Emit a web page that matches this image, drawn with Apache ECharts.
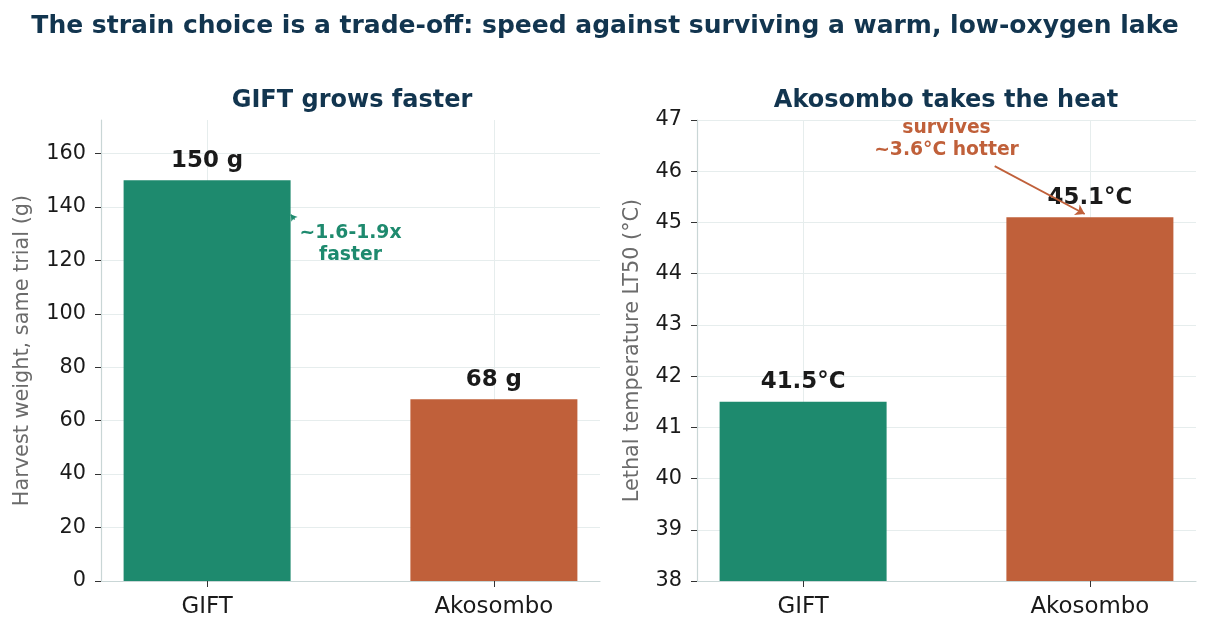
<!DOCTYPE html>
<html>
<head>
<meta charset="utf-8">
<script src="https://cdn.jsdelivr.net/npm/echarts@6/dist/echarts.min.js"></script>
<style>
  html, body { margin: 0; padding: 0; background: #fff; }
  #chart { width: 1210px; height: 635px; }
</style>
</head>
<body>
<div id="chart"></div>
<script>
var strains = ['GIFT', 'Akosombo'];
var harvestWeight = [150, 68];
var lethalTemp = [41.5, 45.1];
var weightTicks = [0, 20, 40, 60, 80, 100, 120, 140, 160];
var tempTicks = [38, 39, 40, 41, 42, 43, 44, 45, 46, 47];
var strainColors = ['#1e8a6e', '#c0603a'];

var font = 'DejaVu Sans';
var navy = '#12354f';
var axisCol = '#c9d6d6';
var gridCol = '#e6eded';

var chart = echarts.init(document.getElementById('chart'));

function xAxisFor(idx) {
    return {
        type: 'value',
        gridIndex: idx,
        min: -0.37,
        max: 1.37,
        axisLine: { show: true, onZero: false, lineStyle: { color: axisCol, width: 1.2 } },
        axisTick: { show: true, length: 6, customValues: [0, 1], lineStyle: { color: '#333' } },
        axisLabel: {
            customValues: [0, 1],
            formatter: function(v) { return strains[Math.round(v)]; },
            color: '#1a1a1a', fontSize: 22.9, fontFamily: font, margin: 15
        },
        splitLine: { show: true, lineStyle: { color: gridCol, width: 1 } }
    };
}

function yAxisFor(idx, ticks, min, max, name, gap) {
    return {
        type: 'value',
        gridIndex: idx,
        min: min,
        max: max,
        interval: ticks[1] - ticks[0],
        name: name,
        nameLocation: 'middle',
        nameGap: gap,
        nameTextStyle: { color: '#6b6b6b', fontSize: 20.8, fontFamily: font },
        axisLine: { show: true, onZero: false, lineStyle: { color: axisCol, width: 1.2 } },
        axisTick: { show: true, length: 6, customValues: ticks, lineStyle: { color: '#333' } },
        axisLabel: { customValues: ticks, color: '#1a1a1a', fontSize: 20.8, fontFamily: font, margin: 15 },
        splitLine: { show: true, lineStyle: { color: gridCol, width: 1 } }
    };
}

function barData(values) {
    return values.map(function(v, i) {
        return { value: [i, v], itemStyle: { color: strainColors[i] } };
    });
}

var barLabel = function(unit) {
    return {
        show: true,
        position: 'top',
        distance: 8,
        fontSize: 22.9,
        fontWeight: 'bold',
        color: '#1a1a1a',
        fontFamily: font,
        formatter: function(p) { return p.value[1] + unit; }
    };
};

var option = {
    animation: false,
    backgroundColor: '#fff',
    title: [{
        text: 'The strain choice is a trade-off: speed against surviving a warm, low-oxygen lake',
        left: 'center', top: 9,
        textStyle: { color: navy, fontSize: 25, fontWeight: 'bold', fontFamily: font }
    }, {
        text: 'GIFT grows faster',
        left: 347, top: 84, textAlign: 'center',
        textStyle: { color: navy, fontSize: 24, fontWeight: 'bold', fontFamily: font }
    }, {
        text: 'Akosombo takes the heat',
        left: 941, top: 84, textAlign: 'center',
        textStyle: { color: navy, fontSize: 24, fontWeight: 'bold', fontFamily: font }
    }],
    grid: [
        { left: 101, right: 610, top: 120, bottom: 54 },
        { left: 697, right: 14, top: 120, bottom: 54 }
    ],
    xAxis: [xAxisFor(0), xAxisFor(1)],
    yAxis: [
        yAxisFor(0, weightTicks, 0, 172.5, 'Harvest weight, same trial (g)', 68),
        yAxisFor(1, tempTicks, 38, 47, 'Lethal temperature LT50 (°C)', 54)
    ],
    series: [{
        type: 'bar',
        xAxisIndex: 0, yAxisIndex: 0,
        barWidth: 167,
        data: barData(harvestWeight),
        label: barLabel(' g'),
        markLine: {
            silent: true,
            symbol: ['none', 'arrow'],
            symbolSize: 6,
            lineStyle: { color: '#1e8a6e', width: 1.5, type: 'solid' },
            label: { show: false },
            data: [[{ coord: [0.305, 135.3] }, { coord: [0.292, 137.1] }]]
        },
        markPoint: {
            silent: true,
            symbol: 'circle', symbolSize: 0,
            data: [{
                coord: [0.5, 126],
                label: {
                    show: true, position: 'inside',
                    formatter: '~1.6-1.9x\nfaster',
                    color: '#1e8a6e', fontSize: 18.75, fontWeight: 'bold',
                    fontFamily: font, lineHeight: 22
                }
            }]
        }
    }, {
        type: 'bar',
        xAxisIndex: 1, yAxisIndex: 1,
        barWidth: 167,
        data: barData(lethalTemp),
        label: barLabel('°C'),
        markLine: {
            silent: true,
            symbol: ['none', 'arrow'],
            symbolSize: 9,
            lineStyle: { color: '#c0603a', width: 1.8, type: 'solid' },
            label: { show: false },
            data: [[{ coord: [0.668, 46.1] }, { coord: [0.982, 45.165] }]]
        },
        markPoint: {
            silent: true,
            symbol: 'circle', symbolSize: 0,
            data: [{
                coord: [0.5, 46.63],
                label: {
                    show: true, position: 'inside',
                    formatter: 'survives\n~3.6°C hotter',
                    color: '#c0603a', fontSize: 18.75, fontWeight: 'bold',
                    fontFamily: font, lineHeight: 22
                }
            }]
        }
    }]
};

chart.setOption(option);
</script>
</body>
</html>
